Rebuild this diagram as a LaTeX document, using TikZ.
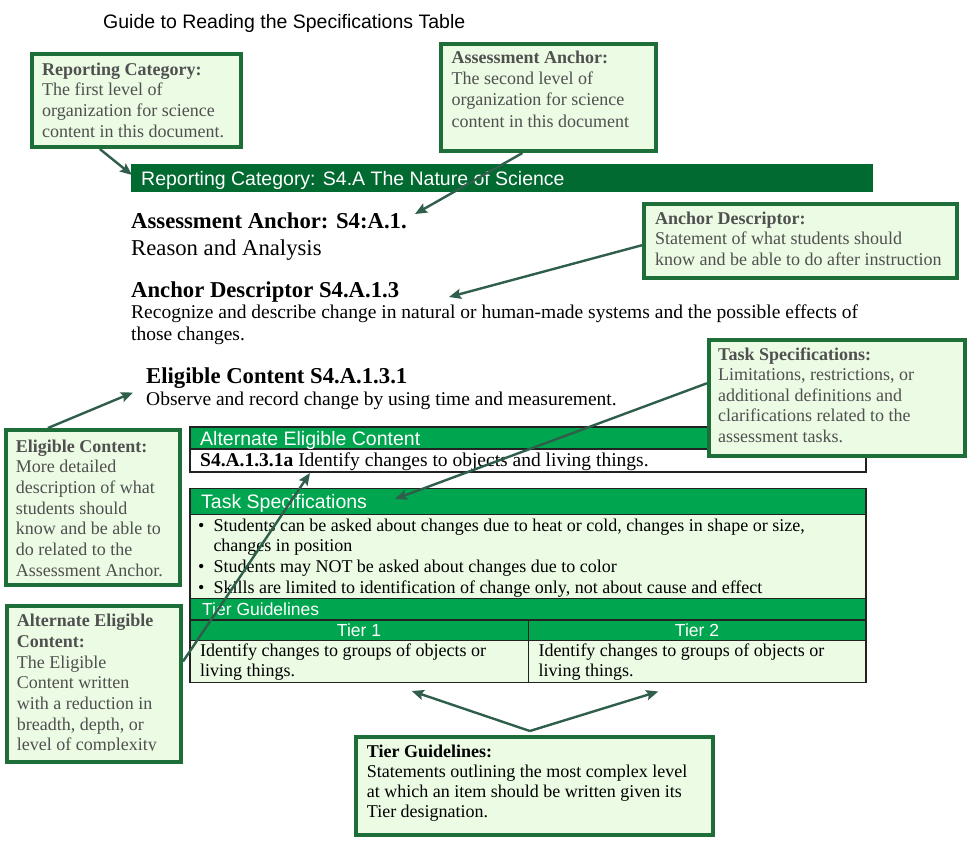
\documentclass[tikz,border=0pt]{standalone}
\usepackage{fontspec}
\setmainfont{Liberation Serif}
\newfontfamily\arialf{Liberation Sans}
\usetikzlibrary{arrows.meta,calc}
\definecolor{boxborder}{HTML}{1E6E3A}
\definecolor{boxfill}{HTML}{EBFBE4}
\definecolor{barcol}{HTML}{006A31}
\definecolor{hdrcol}{HTML}{00A54F}
\definecolor{arrcol}{HTML}{2F5F4B}
\definecolor{boxtext}{HTML}{505050}
\definecolor{tblline}{HTML}{222222}
\begin{document}
\begin{tikzpicture}[x=1pt,y=-1pt,
  callout/.style={draw=boxborder, fill=boxfill, line width=4pt, inner sep=0pt, anchor=north west},
  ctext/.style={anchor=base west, align=left, inner sep=0pt, text=boxtext, font=\fontsize{18}{20.7}\selectfont},
  conn/.style={draw=arrcol, line width=2.4pt, -{Stealth[length=12pt,width=10pt,inset=2pt]}},
  maintxt/.style={anchor=base west, inner sep=0pt, font=\fontsize{19.5}{22}\selectfont},
  mainbig/.style={anchor=base west, inner sep=0pt, font=\fontsize{22.7}{26}\selectfont},
  mainhd/.style={anchor=base west, inner sep=0pt, font=\bfseries\fontsize{22.7}{26}\selectfont},
  hdr/.style={anchor=base west, inner sep=0pt, text=white, font=\arialf\fontsize{19.5}{22}\selectfont},
  tierhdr/.style={inner sep=0pt, text=white, font=\arialf\fontsize{17.5}{20}\selectfont},
  cell/.style={anchor=base west, inner sep=0pt, font=\fontsize{18}{20.5}\selectfont},
  tbl/.style={draw=tblline, line width=1.5pt}
]
\useasboundingbox (0,0) rectangle (974,847);
\fill[white] (0,0) rectangle (974,847);

% title
\node[anchor=base west, inner sep=0pt, font=\arialf\fontsize{19.5}{22}\selectfont] (title) at (103,28) {Guide to Reading the Specifications Table};

% reporting category bar
\fill[barcol] (131,164) rectangle (873,192);
\node[hdr] (bartext) at (141,185) {Reporting Category: S4.A The Nature of Science};

% main texts
\node[mainhd] (aah) at (131,228) {Assessment Anchor: S4:A.1.};
\node[mainbig] (aat) at (131,255.5) {Reason and Analysis};
\node[mainhd] (adh) at (131,297) {Anchor Descriptor S4.A.1.3};
\node[maintxt] (adt1) at (131,318) {Recognize and describe change in natural or human-made systems and the possible effects of};
\node[maintxt] (adt2) at (131,340) {those changes.};
\node[mainhd] (ech) at (146,383) {Eligible Content S4.A.1.3.1};
\node[maintxt] (ect) at (146,405) {Observe and record change by using time and measurement.};

% table 1: alternate eligible content
\fill[hdrcol] (190,427) rectangle (866,449);
\fill[white] (190,449) rectangle (866,472);
\draw[tbl] (190,427) rectangle (866,472);
\draw[tbl] (190,449) -- (866,449);
\node[hdr] (aech) at (200,445) {Alternate Eligible Content};
\node[anchor=base west, inner sep=0pt, font=\fontsize{19.5}{22}\selectfont] (aecr) at (200,466) {\textbf{S4.A.1.3.1a} Identify changes to objects and living things.};

% table 2: task specifications + tiers
\fill[hdrcol] (190,488.5) rectangle (866,514.3);
\fill[boxfill] (190,514.3) rectangle (866,598.3);
\fill[hdrcol] (190,598.3) rectangle (866,640.5);
\fill[boxfill] (190,640.5) rectangle (866,682.7);
\draw[tbl] (190,488.5) rectangle (866,682.7);
\draw[tbl] (190,514.3) -- (866,514.3);
\draw[tbl] (190,598.3) -- (866,598.3);
\draw[tbl] (190,620) -- (866,620);
\draw[tbl] (190,640.5) -- (866,640.5);
\draw[tbl] (528.3,620) -- (528.3,682.7);
\node[hdr] (tsh) at (201,508.3) {Task Specifications};
\node[cell] (b1) at (198,531.7) {•};
\node[cell] (t1) at (213.3,531.7) {Students can be asked about changes due to heat or cold, changes in shape or size,};
\node[cell] (t1b) at (213.3,551.7) {changes in position};
\node[cell] (b2) at (198,572.7) {•};
\node[cell] (t2) at (213.3,572.7) {Students may NOT be asked about changes due to color};
\node[cell] (b3) at (198,593.3) {•};
\node[cell] (t3) at (213.3,593.3) {Skills are limited to identification of change only, not about cause and effect};
\node[tierhdr, anchor=base west] (tgh) at (202,615) {Tier Guidelines};
\node[tierhdr, anchor=base] (tier1) at (359,636.7) {Tier 1};
\node[tierhdr, anchor=base] (tier2) at (697,636.7) {Tier 2};
\node[cell] (c1a) at (200,656.7) {Identify changes to groups of objects or};
\node[cell] (c1b) at (200,676.7) {living things.};
\node[cell] (c2a) at (538.3,656.7) {Identify changes to groups of objects or};
\node[cell] (c2b) at (538.3,676.7) {living things.};

% callout boxes (text nodes placed by the baseline of their last line)
\node[callout, minimum width=209pt, minimum height=93pt] (rcbox) at (29.5,52) {};
\node[ctext] (rctext) at (42,137.1) {\textbf{Reporting Category:}\\The first level of\\organization for science\\content in this document.};

\node[callout, minimum width=215pt, minimum height=107pt] (aabox) at (439,42) {};
\node[ctext, font=\fontsize{18}{21.2}\selectfont] (aatext) at (451.5,127.1) {\textbf{Assessment Anchor:}\\The second level of\\organization for science\\content in this document};

\node[callout, minimum width=313pt, minimum height=74pt] (adbox) at (642,202) {};
\node[ctext] (adtext) at (655,265.4) {\textbf{Anchor Descriptor:}\\Statement of what students should\\know and be able to do after instruction};

\node[callout, minimum width=256pt, minimum height=116pt] (tsbox) at (707,338) {};
\node[ctext, font=\fontsize{18}{20.5}\selectfont] (tstext) at (718,442) {\textbf{Task Specifications:}\\Limitations, restrictions, or\\additional definitions and\\clarifications related to the\\assessment tasks.};

\node[callout, minimum width=174.3pt, minimum height=155pt] (ecbox) at (3.7,428) {};
\node[ctext] (ectext) at (15.7,576.2) {\textbf{Eligible Content:}\\More detailed\\description of what\\students should\\know and be able to\\do related to the\\Assessment Anchor.};

\node[callout, minimum width=174pt, minimum height=156pt] (altbox) at (5,604) {};
\begin{scope}
\clip (5,604) rectangle (179,750.5);
\node[ctext] (alttext) at (16.7,750.9) {\textbf{Alternate Eligible}\\\textbf{Content:}\\The Eligible\\Content written\\with a reduction in\\breadth, depth, or\\level of complexity};
\end{scope}

\node[callout, minimum width=357pt, minimum height=98pt] (tgbox) at (354,735) {};
\node[ctext, text=black, font=\fontsize{18}{20.2}\selectfont] (tgtext) at (366.7,817.9) {\textbf{Tier Guidelines:}\\Statements outlining the most complex level\\at which an item should be written given its\\Tier designation.};

% connectors
\coordinate (tipRC) at (132,175);
\coordinate (tipAA) at (415,214);
\coordinate (tipAD) at (449,297);
\coordinate (tipTS) at (395,499);
\coordinate (tipEC) at (133,392.5);
\coordinate (tipALT) at (310,473);
\coordinate (tipT1) at (411.7,691);
\coordinate (tipT2) at (658.3,691.5);
\coordinate (apex) at ($(tgbox.north west)!0.487!(tgbox.north east)$);

\draw[conn] ($(rcbox.south west)!0.33!(rcbox.south east)$) -- (tipRC);
\draw[conn] ($(aabox.south west)!0.381!(aabox.south east)$) -- (tipAA);
\draw[conn] ($(adbox.north west)!0.554!(adbox.south west)$) -- (tipAD);
\draw[conn] ($(tsbox.north west)!0.377!(tsbox.south west)$) -- (tipTS);
\draw[conn] ($(ecbox.north west)!0.248!(ecbox.north east)$) -- (tipEC);
\draw[conn] ($(altbox.north east)!0.359!(altbox.south east)$) -- (tipALT);
\draw[conn] ($(apex)+(0,-4)$) -- (tipT1);
\draw[conn] ($(apex)+(0,-4)$) -- (tipT2);
\end{tikzpicture}
\end{document}
